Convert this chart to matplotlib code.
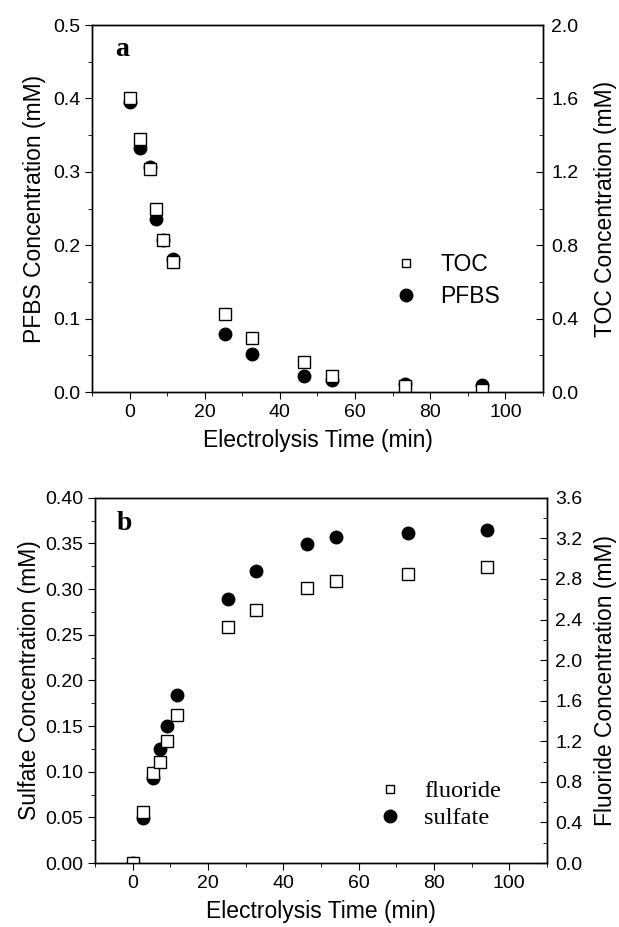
import matplotlib
matplotlib.use('Agg')
import matplotlib.pyplot as plt
from matplotlib.ticker import MultipleLocator

plt.rcParams['font.family'] = ['Liberation Sans', 'DejaVu Sans']

# panel a data
t_a = [0, 2.7, 5.4, 7.1, 8.9, 11.6, 25.3, 32.7, 46.3, 53.8, 73.3, 93.9]
pfbs = [0.395, 0.333, 0.307, 0.236, 0.207, 0.181, 0.079, 0.052, 0.022, 0.017, 0.011, 0.0095]
toc = [1.60, 1.377, 1.215, 1.00, 0.83, 0.71, 0.427, 0.296, 0.162, 0.089, 0.033, 0.011]

# panel b data
t_b = [0.2, 2.8, 5.5, 7.3, 9.2, 11.9, 25.4, 32.8, 46.4, 54.0, 73.2, 94.0]
sulfate = [0.0, 0.0496, 0.0934, 0.125, 0.1506, 0.184, 0.289, 0.3196, 0.349, 0.3576, 0.3616, 0.365]
fluoride = [0.0, 0.50, 0.89, 1.00, 1.205, 1.46, 2.33, 2.49, 2.71, 2.78, 2.85, 2.92]

fig = plt.figure(figsize=(6.19, 9.27), dpi=100)

TICK = 14
LAB = 16.5

def style(ax, tw):
    ax.set_xlim(-10, 110)
    ax.xaxis.set_major_locator(MultipleLocator(20))
    ax.xaxis.set_minor_locator(MultipleLocator(10))
    ax.tick_params(axis='x', which='major', direction='out', length=5, labelsize=TICK, top=False)
    ax.tick_params(axis='x', which='minor', direction='out', length=3, top=False)
    ax.tick_params(axis='y', which='major', direction='out', length=5, labelsize=TICK)
    ax.tick_params(axis='y', which='minor', direction='out', length=3)
    tw.tick_params(axis='y', which='major', direction='in', length=5, labelsize=TICK, pad=6)
    tw.tick_params(axis='y', which='minor', direction='in', length=3)
    tw.xaxis.set_visible(False)
    for s in list(ax.spines.values()) + list(tw.spines.values()):
        s.set_linewidth(1.0)

# ---- panel a ----
ax1 = fig.add_axes([0.1486, 0.577, 0.7286, 0.396])
tw1 = ax1.twinx()
style(ax1, tw1)
ax1.set_ylim(0, 0.5)
ax1.yaxis.set_major_locator(MultipleLocator(0.1))
ax1.yaxis.set_minor_locator(MultipleLocator(0.05))
ax1.yaxis.set_major_formatter(plt.FormatStrFormatter('%.1f'))
tw1.set_ylim(0, 2.0)
tw1.yaxis.set_major_locator(MultipleLocator(0.4))
tw1.yaxis.set_minor_locator(MultipleLocator(0.2))
tw1.yaxis.set_major_formatter(plt.FormatStrFormatter('%.1f'))

c1, = ax1.plot(t_a, pfbs, 'o', color='black', markersize=9, linestyle='none', label='PFBS')
s1, = tw1.plot(t_a, toc, 's', markerfacecolor='white', markeredgecolor='black',
               markeredgewidth=1.0, markersize=8, linestyle='none', label='TOC')
ax1.set_xlabel('Electrolysis Time (min)', fontsize=LAB, labelpad=6)
ax1.set_ylabel('PFBS Concentration (mM)', fontsize=LAB, labelpad=5)
tw1.set_ylabel('TOC Concentration (mM)', fontsize=LAB, labelpad=11)
ax1.text(0.066, 0.932, 'a', transform=ax1.transAxes, fontsize=20, fontweight='bold',
         family='Liberation Serif', ha='center', va='center')
leg1 = tw1.legend([s1, c1], ['TOC', 'PFBS'], loc='center left', bbox_to_anchor=(0.645, 0.303),
                  frameon=False, fontsize=16.5, handlelength=1.0, handletextpad=1.0,
                  labelspacing=0.4, borderpad=0)
leg1.legend_handles[0].set_markersize(6)

# ---- panel b ----
ax2 = fig.add_axes([0.1535, 0.069, 0.730, 0.394])
tw2 = ax2.twinx()
style(ax2, tw2)
ax2.set_ylim(0, 0.40)
ax2.yaxis.set_major_locator(MultipleLocator(0.05))
ax2.yaxis.set_minor_locator(MultipleLocator(0.025))
ax2.yaxis.set_major_formatter(plt.FormatStrFormatter('%.2f'))
tw2.set_ylim(0, 3.6)
tw2.yaxis.set_major_locator(MultipleLocator(0.4))
tw2.yaxis.set_minor_locator(MultipleLocator(0.2))
tw2.yaxis.set_major_formatter(plt.FormatStrFormatter('%.1f'))

c2, = ax2.plot(t_b, sulfate, 'o', color='black', markersize=9, linestyle='none', label='sulfate')
s2, = tw2.plot(t_b, fluoride, 's', markerfacecolor='white', markeredgecolor='black',
               markeredgewidth=1.0, markersize=8, linestyle='none', label='fluoride')
ax2.set_xlabel('Electrolysis Time (min)', fontsize=LAB, labelpad=6)
ax2.set_ylabel('Sulfate Concentration (mM)', fontsize=LAB, labelpad=3)
tw2.set_ylabel('Fluoride Concentration (mM)', fontsize=LAB, labelpad=8)
ax2.text(0.066, 0.93, 'b', transform=ax2.transAxes, fontsize=20, fontweight='bold',
         family='Liberation Serif', ha='center', va='center')
leg2 = tw2.legend([s2, c2], ['fluoride', 'sulfate'], loc='center left', bbox_to_anchor=(0.60, 0.16),
                  frameon=False, prop={'family': 'Liberation Serif', 'size': 17.5},
                  handlelength=1.0, handletextpad=0.9, labelspacing=0.2, borderpad=0)
leg2.legend_handles[0].set_markersize(6)

fig.savefig('out.png', dpi=100)
